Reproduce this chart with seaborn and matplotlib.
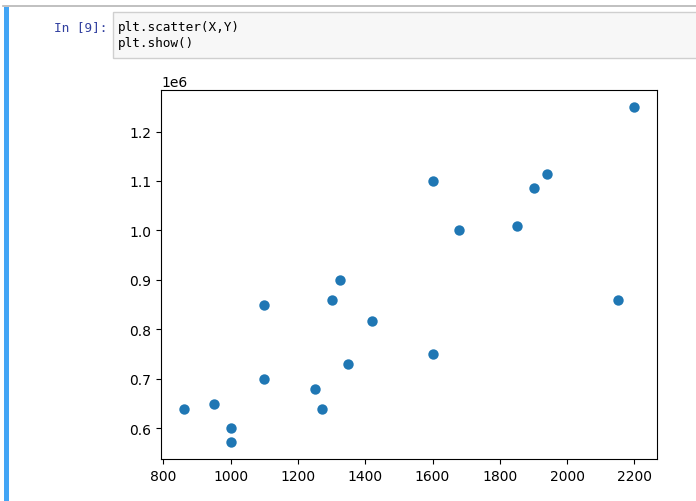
import pandas as pd
import seaborn as sns
import matplotlib.pyplot as plt
from matplotlib.patches import Rectangle
from matplotlib.lines import Line2D

# --- datos ---
X = [860, 950, 1000, 1000, 1100, 1100, 1250, 1270, 1300, 1325,
     1350, 1420, 1600, 1600, 1680, 1850, 1900, 1940, 2150, 2200]
Y = [640000, 650000, 600000, 572000, 850000, 700000, 680000, 640000, 860000, 900000,
     730000, 818000, 1100000, 750000, 1000000, 1010000, 1085000, 1115000, 860000, 1250000]

CODE_LINES = ["plt.scatter(X,Y)", "plt.show()"]
PROMPT = "In [9]:"

W, H = 696, 502
df = pd.DataFrame({"X": X, "Y": Y})

fig = plt.figure(figsize=(W / 100, H / 100), dpi=100)


def fx(px):
    return px / W


def fy(py):
    return 1 - py / H


# --- decoración tipo notebook ---
fig.add_artist(Line2D([fx(3), fx(W)], [fy(7), fy(7)], color="#b5b5b5", lw=1.2))
fig.add_artist(Rectangle((fx(4), 0), fx(5), fy(8), color="#42a5f5", lw=0))
fig.add_artist(Rectangle((fx(113), fy(59)), fx(W - 113 + 5), (59 - 13) / H,
                         facecolor="#f7f7f7", edgecolor="#cfcfcf", lw=1))
fig.text(fx(107), fy(28), PROMPT, ha="right", va="center", color="#303f9f",
         family="DejaVu Sans Mono", fontsize=9.2)
for i, line in enumerate(CODE_LINES):
    fig.text(fx(118), fy(28 + i * 16), line, ha="left", va="center", color="#000000",
             family="DejaVu Sans Mono", fontsize=9.2)

# --- gráfico ---
ax = fig.add_axes([fx(161), fy(460), fx(657 - 161), (460 - 91) / H])
sns.scatterplot(data=df, x="X", y="Y", ax=ax, color="#1f77b4", s=56, linewidth=0)
ax.set_xlabel("")
ax.set_ylabel("")

fig.savefig("out.png", dpi=100)
